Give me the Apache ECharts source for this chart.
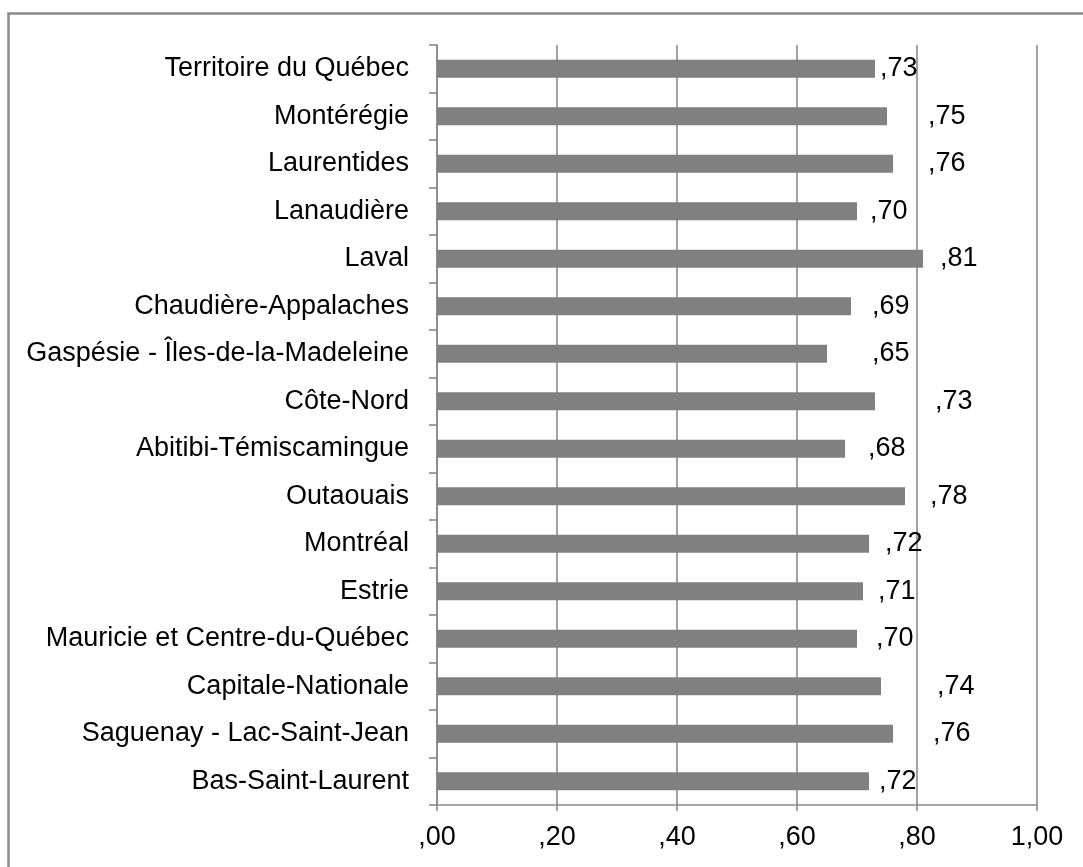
<!DOCTYPE html>
<html>
<head>
<meta charset="utf-8">
<script src="https://cdn.jsdelivr.net/npm/echarts@6/dist/echarts.min.js"></script>
<style>
  html, body { margin: 0; padding: 0; background: #fff; }
  #chart { width: 1083px; height: 867px; }
</style>
</head>
<body>
<div id="chart"></div>
<script>
// Regions, listed top to bottom
const regions = [
  'Territoire du Québec',
  'Montérégie',
  'Laurentides',
  'Lanaudière',
  'Laval',
  'Chaudière-Appalaches',
  'Gaspésie - Îles-de-la-Madeleine',
  'Côte-Nord',
  'Abitibi-Témiscamingue',
  'Outaouais',
  'Montréal',
  'Estrie',
  'Mauricie et Centre-du-Québec',
  'Capitale-Nationale',
  'Saguenay - Lac-Saint-Jean',
  'Bas-Saint-Laurent'
];

// Index value per region
const indexValues = [0.73, 0.75, 0.76, 0.70, 0.81, 0.69, 0.65, 0.73, 0.68, 0.78, 0.72, 0.71, 0.70, 0.74, 0.76, 0.72];

// Value axis ticks
const axisMin = 0;
const axisMax = 1;
const axisStep = 0.2;

// Gap (px) between each bar end and its value label
const labelGap = [5, 41, 35, 13, 17, 21, 45, 60, 23, 25, 16, 15, 19, 56, 40, 10];

// French-style decimal: 0.73 -> ",73", 1 -> "1,00"
function frNum(v) {
  const s = Number(v).toFixed(2).replace('.', ',');
  return s.startsWith('0,') ? s.slice(1) : s;
}

const FONT = '"Liberation Sans", Arial, sans-serif';
const FONT_SIZE = 27;
const LINE = '#8a8a8a';

const chart = echarts.init(document.getElementById('chart'), null, { renderer: 'canvas' });

chart.setOption({
  backgroundColor: '#ffffff',
  animation: false,
  graphic: [{
    type: 'rect',
    shape: { x: 8.5, y: 13.5, width: 1200, height: 1000 },
    style: { fill: 'none', stroke: '#8a8a8a', lineWidth: 2.5 },
    silent: true
  }],
  grid: { left: 437, right: 46, top: 45, bottom: 62, containLabel: false },
  xAxis: {
    type: 'value',
    min: axisMin,
    max: axisMax,
    interval: axisStep,
    axisLine: { show: true, lineStyle: { color: LINE, width: 1.6 } },
    axisTick: { show: true, length: 6, lineStyle: { color: LINE, width: 1.6 } },
    splitLine: { show: true, lineStyle: { color: LINE, width: 1.6 } },
    axisLabel: {
      margin: 19,
      fontFamily: FONT,
      fontSize: FONT_SIZE,
      color: '#000',
      formatter: frNum
    }
  },
  yAxis: {
    type: 'category',
    inverse: true,
    data: regions,
    axisLine: { show: true, lineStyle: { color: LINE, width: 1.6 } },
    axisTick: { show: true, length: 8, lineStyle: { color: LINE, width: 1.6 } },
    splitLine: { show: false },
    axisLabel: {
      margin: 28,
      fontFamily: FONT,
      fontSize: FONT_SIZE,
      color: '#000',
      interval: 0
    }
  },
  series: [{
    type: 'bar',
    barWidth: 18,
    itemStyle: { color: '#808080' },
    label: {
      show: true,
      position: 'right',
      fontFamily: FONT,
      fontSize: FONT_SIZE,
      color: '#000',
      formatter: p => frNum(p.value)
    },
    data: indexValues.map((v, i) => ({ value: v, label: { distance: labelGap[i] } }))
  }]
});
</script>
</body>
</html>
